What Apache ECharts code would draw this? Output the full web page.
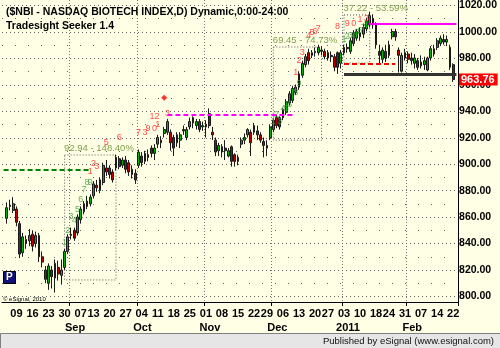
<!DOCTYPE html>
<html><head><meta charset="utf-8">
<script src="https://cdn.jsdelivr.net/npm/echarts@6/dist/echarts.min.js"></script>
<style>html,body{margin:0;padding:0;background:#FFFFE6;}#c{width:500px;height:348px;}</style>
</head><body><div id="c"></div><script>
const dates = [
'2010-08-04','2010-08-05','2010-08-06','2010-08-09','2010-08-10','2010-08-11','2010-08-12','2010-08-13','2010-08-16','2010-08-17','2010-08-18','2010-08-19','2010-08-20','2010-08-23','2010-08-24','2010-08-25','2010-08-26','2010-08-27','2010-08-30','2010-08-31',
'2010-09-01','2010-09-02','2010-09-03','2010-09-07','2010-09-08','2010-09-09','2010-09-10','2010-09-13','2010-09-14','2010-09-15','2010-09-16','2010-09-17','2010-09-20','2010-09-21','2010-09-22','2010-09-23','2010-09-24','2010-09-27','2010-09-28','2010-09-29','2010-09-30',
'2010-10-01','2010-10-04','2010-10-05','2010-10-06','2010-10-07','2010-10-08','2010-10-11','2010-10-12','2010-10-13','2010-10-14','2010-10-15','2010-10-18','2010-10-19','2010-10-20','2010-10-21','2010-10-22','2010-10-25','2010-10-26','2010-10-27','2010-10-28','2010-10-29',
'2010-11-01','2010-11-02','2010-11-03','2010-11-04','2010-11-05','2010-11-08','2010-11-09','2010-11-10','2010-11-11','2010-11-12','2010-11-15','2010-11-16','2010-11-17','2010-11-18','2010-11-19','2010-11-22','2010-11-23','2010-11-24','2010-11-26','2010-11-29','2010-11-30',
'2010-12-01','2010-12-02','2010-12-03','2010-12-06','2010-12-07','2010-12-08','2010-12-09','2010-12-10','2010-12-13','2010-12-14','2010-12-15','2010-12-16','2010-12-17','2010-12-20','2010-12-21','2010-12-22','2010-12-23','2010-12-27','2010-12-28','2010-12-29','2010-12-30','2010-12-31',
'2011-01-03','2011-01-04','2011-01-05','2011-01-06','2011-01-07','2011-01-10','2011-01-11','2011-01-12','2011-01-13','2011-01-14','2011-01-18','2011-01-19','2011-01-20','2011-01-21','2011-01-24','2011-01-25','2011-01-26','2011-01-27','2011-01-28','2011-01-31',
'2011-02-01','2011-02-02','2011-02-03','2011-02-04','2011-02-07','2011-02-08','2011-02-09','2011-02-10','2011-02-11','2011-02-14','2011-02-15','2011-02-16','2011-02-17','2011-02-18','2011-02-22'];

const opens = [859,868,865,866,855,833,843,842,847,840,846,830,820,810,820,814,822,816,822,834,
846,850,848,858,864,872,870,876,884,880,886,897,897,894,905,904,899,903,901,896,893,
899,906,902,907,912,908,915,918,923,924,924,920,922,918,926,920,928,935,929,932,928,
930,938,924,918,910,913,912,906,913,907,905,915,918,922,924,924,925,922,917,914,920,
926,935,935,935,939,946,948,954,958,967,975,984,982,984,984,986,985,984,982,981,984,976,
984,988,985,991,995,999,998,1002,1005,1010,1005,985,979,985,982,996,1000,986,970,980,
983,980,976,978,974,975,971,980,983,988,991,994,992,988,975];
const closes = [867,869,870,856,832,845,840,846,838,846,830,826,813,823,815,825,817,820,834,845,
847,844,860,866,870,868,875,885,882,888,899,894,892,888,897,898,903,896,894,892,888,
909,901,908,905,908,912,920,916,926,932,916,912,916,922,925,926,932,931,932,926,929,
928,929,922,909,914,909,910,910,902,902,902,918,920,926,916,929,922,918,914,912,928,
933,929,928,941,947,953,957,958,968,976,981,978,984,985,988,985,981,980,981,973,973,984,
988,987,993,999,1000,996,1003,1008,1012,1005,990,982,986,980,990,1000,996,982,982,984,
979,978,980,973,977,978,980,987,987,993,995,992,994,973,963.76];
const lows = [855,865,863,853,829,830,836,838,834,837,826,822,810,805,806,803,812,809,820,832,
843,842,846,855,862,866,868,874,879,878,884,891,889,886,895,896,897,893,891,889,885,
897,898,900,902,905,903,912,912,920,922,910,906,913,912,922,918,926,927,926,924,925,
920,927,918,906,906,905,903,905,898,898,899,912,915,920,906,922,918,916,905,906,918,
924,927,926,933,937,944,946,952,956,965,973,975,980,981,982,982,979,978,977,970,968,972,
982,984,983,989,993,993,995,1000,1003,1002,987,975,976,977,980,994,993,969,969,978,
976,975,972,971,972,971,970,978,981,986,989,990,989,971,962];
const highs = [871,873,875,868,857,848,846,851,850,849,848,834,823,825,823,828,827,828,836,847,
852,852,862,868,872,876,877,887,888,890,901,903,899,896,907,906,905,906,903,899,896,
911,909,910,911,914,915,922,921,928,934,926,922,924,924,929,928,935,936,934,934,932,
933,942,928,920,916,915,918,912,914,908,907,920,923,927,926,931,929,924,920,918,930,
935,937,936,942,949,955,959,960,970,978,983,987,986,988,990,989,987,986,985,983,985,986,
990,991,995,1001,1002,1003,1006,1010,1015,1013,1007,990,988,990,993,1002,1002,988,984,987,
985,984,983,980,982,981,981,989,990,995,997,998,997,990,976];

const yTickLabels = [800,820,840,860,880,900,920,940,960,980,1000,1020];
const lastPrice = 963.76;

// Seeker annotations: [bar index, price, text]
const seekerGreen = [[18,841,'1'],[19,850,'2'],[20,860,'3'],[21,857,'4'],[22,866,'5'],[23,873,'6'],[24,881,'7'],[25,886,'8'],[26,886,'9'],
  [83,932,'1'],[84,937,'2'],[85,932,'3'],[86,942,'4'],[87,942,'5'],[88,945,'6'],[89,954,'7'],[90,954,'8'],[91,961,'9'],
  [105,994,'1'],[106,996,'2'],[107,997,'3'],[108,997,'4'],[109,999,'5'],[110,1001,'6'],[111,1003,'7'],[112,1005,'8']];
const seekerRed = [[26,894,'1'],[27,900,'2'],[28,898,'3'],[31,916,'5'],[35,920,'6'],[41,924,'7'],[43,924,'3'],[44,927,'9'],[46,927,'0'],[47,930,'1'],
  [46,936,'12'],[50,938,'3'],
  [90,969,'1'],[91,978,'2'],[92,984,'3'],[94,997,'4'],[95,999,'5'],[96,1000,'6'],[97,1002,'7'],[103,1004,'8'],[106,1006,'9'],[108,1006,'0'],[110,1009,'1'],[112,1010,'3']];
const seekerStar = [[49,950]];

const boxes = [ // [startIdx, endIdx, top, bottom, label]
  [18,34,906.8,812.5,'92.94 - 148.40%'],
  [83,98,988.3,918,'69.45 - 74.73%'],
  [105,113,1012.5,976.2,'37.22 - 53.59%']];

const monthNames = ['Jan','Feb','Mar','Apr','May','Jun','Jul','Aug','Sep','Oct','Nov','Dec'];

// ---- build ----
const cats = [''].concat(dates).concat(['']);
const candle = [['-','-','-','-']].concat(dates.map((d,i)=>[opens[i],closes[i],lows[i],highs[i]])).concat([['-','-','-','-']]);
function dt(i){ const s=cats[i]; return s? new Date(s+'T12:00:00Z'):null; }
function isWeekStart(i){ const d=dt(i); if(!d) return false; const p=dt(i-1); if(!p) return true; return d.getUTCDay() <= p.getUTCDay() || (d-p)>5*864e5; }
function isMonthStart(i){ const d=dt(i); if(!d) return false; const p=dt(i-1); if(!p) return false; return d.getUTCMonth()!==p.getUTCMonth(); }

const FONT = 'Liberation Sans, Arial, sans-serif';
const pxPerUnit = 1.325, y900 = 164;
const H = 348, plotBottom = 302;
const yMin0 = 900 - (plotBottom - y900)/pxPerUnit;
const yMax0 = 900 + y900/pxPerUnit;

const chart = echarts.init(document.getElementById('c'), null, {renderer:'canvas'});
const option = {
  animation:false,
  backgroundColor:'#FFFFE6',
  title:{text:'($NBI - NASDAQ BIOTECH INDEX,D) Dynamic,0:00-24:00', subtext:'Tradesight Seeker 1.4', left:1, top:2, itemGap:3,
    textStyle:{fontFamily:FONT,fontSize:10.5,fontWeight:'bold',color:'#000'},
    subtextStyle:{fontFamily:FONT,fontSize:10.5,fontWeight:'bold',color:'#000'}},
  grid:[
    {left:2,right:42,top:0,bottom:H-plotBottom},
    {left:2,right:42,top:y900-(1020-900)*pxPerUnit,bottom:H-(y900+(900-800)*pxPerUnit)}
  ],
  xAxis:[
    {type:'category',data:cats,gridIndex:0,boundaryGap:true,
      axisLine:{show:true,lineStyle:{color:'#000',width:1}},
      axisTick:{show:true,interval:(i)=>isMonthStart(i),length:4,lineStyle:{color:'#000'}},
      splitLine:{show:true,interval:(i)=>isMonthStart(i),lineStyle:{color:'#777',type:[1,2],width:1}},
      axisLabel:{interval:(i)=>isWeekStart(i),margin:6,fontFamily:FONT,fontSize:11,fontWeight:'bold',color:'#000',
        formatter:(v)=>v? v.slice(8,10):''}},
    {type:'category',data:cats,gridIndex:0,boundaryGap:true,position:'bottom',offset:14,
      axisLine:{show:false},axisTick:{show:false},splitLine:{show:false},
      axisLabel:{interval:(i)=>isMonthStart(i),margin:6,fontFamily:FONT,fontSize:11,fontWeight:'bold',color:'#000',padding:[0,0,0,8],
        formatter:(v)=>{ if(!v) return ''; const m=+v.slice(5,7); return m===1? v.slice(0,4): monthNames[m-1]; }}},
    {type:'category',data:cats,gridIndex:1,show:false}
  ],
  yAxis:[
    {type:'value',gridIndex:0,min:yMin0,max:yMax0,position:'right',
      axisLine:{show:true,lineStyle:{color:'#000',width:1}},axisTick:{show:false},axisLabel:{show:false},splitLine:{show:false}},
    {type:'value',gridIndex:1,min:800,max:1020,interval:20,position:'right',
      axisLine:{show:false},axisTick:{show:false},
      axisLabel:{margin:3,fontFamily:FONT,fontSize:10.5,fontWeight:'bold',color:'#000',
        formatter:(v)=> yTickLabels.indexOf(v)>=0 ? v.toFixed(2):''},
      splitLine:{show:true,lineStyle:{color:'#666',type:[1,3],width:1}},
      minorTick:{show:false,splitNumber:2},
      minorSplitLine:{show:true,lineStyle:{color:'#666',type:[1,12],width:1}}}
  ],
  series:[
    {type:'candlestick',xAxisIndex:0,yAxisIndex:0,data:candle,barWidth:'70%',
      itemStyle:{color:'#00B400',color0:'#C00000',borderColor:'#1a1a1a',borderColor0:'#1a1a1a',borderWidth:1},
      markLine:{silent:true,symbol:['none','none'],animation:false,label:{show:false},
        data:[
          [{coord:[0,895.5],lineStyle:{color:'#008000',type:[5,3],width:2}},{coord:[27,895.5]}],
          [{coord:[51,937],lineStyle:{color:'#FF00FF',type:[5,3],width:2}},{coord:[90,937]}],
          [{coord:[114,1006],lineStyle:{color:'#FF00FF',type:'solid',width:2}},{coord:[141,1006]}],
          [{coord:[106,975.5],lineStyle:{color:'#FF0000',type:[5,3],width:2}},{coord:[122,975.5]}],
          [{coord:[106,968],lineStyle:{color:'#333',type:'solid',width:3}},{coord:[141,968]}]
        ]}
    },
    {type:'line',xAxisIndex:0,yAxisIndex:0,data:[],silent:true,
      markLine:{silent:true,symbol:['none','none'],animation:false,
        data:[{yAxis:lastPrice,lineStyle:{color:'rgba(0,0,0,0)',width:1},
            label:{show:true,position:'end',distance:1,formatter:lastPrice.toFixed(2),backgroundColor:'#FF0000',color:'#fff',
              fontFamily:FONT,fontSize:11,fontWeight:'bold',padding:[1,3,0,2]}}]},
      markArea:{silent:true,
        itemStyle:{color:'rgba(0,0,0,0)',borderColor:'#555',borderWidth:1,borderType:[1,2]},
        label:{show:true,position:[0,-11],align:'left',color:'#7FA04A',fontFamily:FONT,fontSize:9.5},
        data: boxes.map(b=>[{coord:[b[0]+1,b[2]],name:b[4]},{coord:[b[1]+1,b[3]]}])}
    },
    {type:'scatter',xAxisIndex:0,yAxisIndex:0,symbolSize:0,silent:true,
      data:seekerGreen.map(a=>[a[0]+1,a[1],a[2]]),
      label:{show:true,position:'inside',formatter:(p)=>p.value[2],color:'#3A9A3A',fontFamily:FONT,fontSize:9}},
    {type:'scatter',xAxisIndex:0,yAxisIndex:0,symbolSize:0,silent:true,
      data:seekerRed.map(a=>[a[0]+1,a[1],a[2]]),
      label:{show:true,position:'inside',formatter:(p)=>p.value[2],color:'#FF2020',fontFamily:FONT,fontSize:9}},
    {type:'scatter',xAxisIndex:0,yAxisIndex:0,symbol:'diamond',symbolSize:6,silent:true,itemStyle:{color:'#FF0000'},
      data:seekerStar.map(a=>[a[0]+1,a[1]])}
  ],
  graphic:[
    {type:'rect',left:3,top:271,shape:{width:12,height:12},style:{fill:'#10107A',stroke:'#000',lineWidth:1},z:50},
    {type:'text',left:6,top:272,style:{text:'P',fill:'#fff',font:'bold 10px '+FONT},z:51},
    {type:'text',left:3,top:296,style:{text:'© eSignal, 2010',fill:'#000',font:'6px '+FONT},z:50},
    {type:'rect',left:0,top:333,shape:{width:500,height:15},style:{fill:'#E6E6E6',stroke:'#808080',lineWidth:1},z:50},
    {type:'text',right:6,top:336,style:{text:'Published by eSignal (www.esignal.com)',fill:'#111',font:'9.5px '+FONT},z:51}
  ]
};
chart.setOption(option);
</script></body></html>
